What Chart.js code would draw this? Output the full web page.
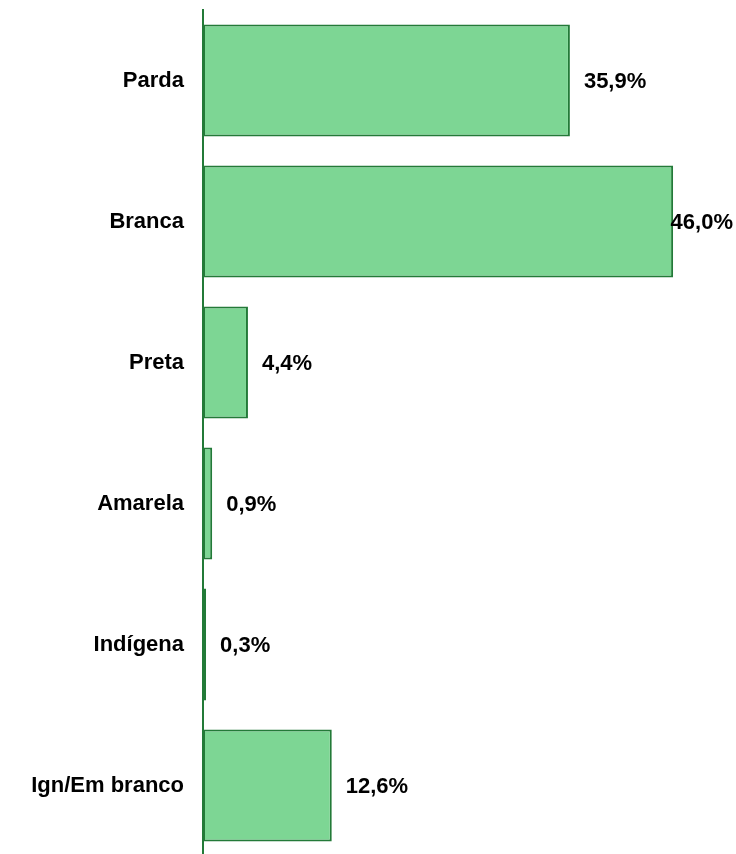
<!DOCTYPE html>
<html>
<head>
<meta charset="utf-8">
<script src="https://cdn.jsdelivr.net/npm/chart.js@4.4.0/dist/chart.umd.min.js"></script>
<style>
  html, body { margin: 0; padding: 0; background: #fff; overflow: hidden; }
  #wrap { width: 736px; height: 856px; position: relative; }
</style>
</head>
<body>
<div id="wrap"><canvas id="grafCor"></canvas></div>
<script>
var categorias = ['Parda', 'Branca', 'Preta', 'Amarela', 'Indígena', 'Ign/Em branco'];
var percentuais = [35.9, 46.0, 4.4, 0.9, 0.3, 12.6];
var rotulos = ['35,9%', '46,0%', '4,4%', '0,9%', '0,3%', '12,6%'];

var fonte = 'Liberation Sans, Arial, sans-serif';

// rotulos de valor ao lado de cada barra
var rotuloPlugin = {
    id: 'rotuloBarras',
    afterDatasetsDraw: function (chart) {
        var ctx = chart.ctx;
        var meta = chart.getDatasetMeta(0);
        ctx.save();
        ctx.font = 'bold 22px ' + fonte;
        ctx.fillStyle = '#000';
        ctx.textAlign = 'left';
        ctx.textBaseline = 'middle';
        meta.data.forEach(function (bar, i) {
            var txt = rotulos[i];
            var w = ctx.measureText(txt).width;
            var x = Math.min(bar.x + 14, chart.width - 3 - w);
            ctx.fillText(txt, x, bar.y + 1);
        });
        ctx.restore();
    }
};

const ctx = document.getElementById('grafCor').getContext('2d');
new Chart(ctx, {
    type: 'bar',
    data: {
        labels: categorias,
        datasets: [{
            data: percentuais,
            backgroundColor: '#7dd694',
            borderColor: '#237a38',
            borderWidth: 2,
            borderSkipped: false,
            barPercentage: 0.795,
            categoryPercentage: 1
        }]
    },
    options: {
        indexAxis: 'y',
        responsive: true,
        maintainAspectRatio: false,
        animation: false,
        layout: {
            padding: { top: 10, right: 22, bottom: 0, left: 0 }
        },
        plugins: {
            legend: { display: false },
            tooltip: { enabled: false }
        },
        scales: {
            x: {
                display: false,
                min: 0,
                max: 50
            },
            y: {
                afterFit: function (scale) {
                    scale.width = 203;
                    scale.paddingTop = 0;
                    scale.paddingBottom = 0;
                },
                grid: { display: false, drawTicks: false },
                border: { display: true, color: '#237a38', width: 2 },
                ticks: {
                    color: '#000',
                    padding: 19,
                    font: { family: fonte, size: 22, weight: 'bold' }
                }
            }
        }
    },
    plugins: [rotuloPlugin]
});
</script>
</body>
</html>
